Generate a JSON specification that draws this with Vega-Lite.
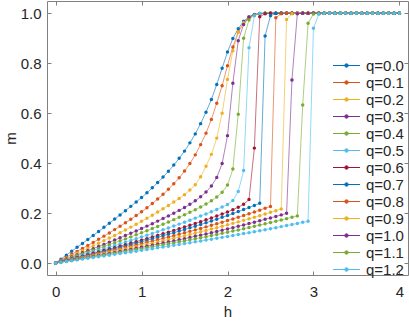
{
"$schema":"https://vega.github.io/schema/vega-lite/v6.json",
"width":361,"height":274,
"autosize":{"type":"none"},
"padding":{"left":47,"top":1,"right":1,"bottom":46},
"background":"white",
"config":{"view":{"stroke":null},"font":"Liberation Sans"},
"data":{"values":[
{"q":"0.0","h":0,"m":0},{"q":"0.0","h":0.0625,"m":0.0156},{"q":"0.0","h":0.125,"m":0.0313},{"q":"0.0","h":0.1875,"m":0.047},{"q":"0.0","h":0.25,"m":0.0627},{"q":"0.0","h":0.3125,"m":0.0785},{"q":"0.0","h":0.375,"m":0.0944},{"q":"0.0","h":0.4375,"m":0.1104},{"q":"0.0","h":0.5,"m":0.1265},{"q":"0.0","h":0.5625,"m":0.1428},{"q":"0.0","h":0.625,"m":0.1592},{"q":"0.0","h":0.6875,"m":0.1758},{"q":"0.0","h":0.75,"m":0.1926},{"q":"0.0","h":0.8125,"m":0.2096},{"q":"0.0","h":0.875,"m":0.2268},{"q":"0.0","h":0.9375,"m":0.2443},{"q":"0.0","h":1,"m":0.262},{"q":"0.0","h":1.0625,"m":0.281},{"q":"0.0","h":1.125,"m":0.301},{"q":"0.0","h":1.1875,"m":0.322},{"q":"0.0","h":1.25,"m":0.344},{"q":"0.0","h":1.3125,"m":0.367},{"q":"0.0","h":1.375,"m":0.392},{"q":"0.0","h":1.4375,"m":0.419},{"q":"0.0","h":1.5,"m":0.448},{"q":"0.0","h":1.5625,"m":0.481},{"q":"0.0","h":1.625,"m":0.517},{"q":"0.0","h":1.6875,"m":0.558},{"q":"0.0","h":1.75,"m":0.604},{"q":"0.0","h":1.8125,"m":0.655},{"q":"0.0","h":1.875,"m":0.715},{"q":"0.0","h":1.9375,"m":0.78},{"q":"0.0","h":2,"m":0.845},{"q":"0.0","h":2.0625,"m":0.899},{"q":"0.0","h":2.125,"m":0.938},{"q":"0.0","h":2.1875,"m":0.968},{"q":"0.0","h":2.25,"m":0.986},{"q":"0.0","h":2.3125,"m":0.994},{"q":"0.0","h":2.375,"m":0.998},{"q":"0.0","h":2.4375,"m":1},{"q":"0.0","h":2.5,"m":1},{"q":"0.0","h":2.5625,"m":1},{"q":"0.0","h":2.625,"m":1},{"q":"0.0","h":2.6875,"m":1},{"q":"0.0","h":2.75,"m":1},{"q":"0.0","h":2.8125,"m":1},{"q":"0.0","h":2.875,"m":1},{"q":"0.0","h":2.9375,"m":1},{"q":"0.0","h":3,"m":1},{"q":"0.0","h":3.0625,"m":1},{"q":"0.0","h":3.125,"m":1},{"q":"0.0","h":3.1875,"m":1},{"q":"0.0","h":3.25,"m":1},{"q":"0.0","h":3.3125,"m":1},{"q":"0.0","h":3.375,"m":1},{"q":"0.0","h":3.4375,"m":1},{"q":"0.0","h":3.5,"m":1},{"q":"0.0","h":3.5625,"m":1},{"q":"0.0","h":3.625,"m":1},{"q":"0.0","h":3.6875,"m":1},{"q":"0.0","h":3.75,"m":1},{"q":"0.0","h":3.8125,"m":1},{"q":"0.0","h":3.875,"m":1},{"q":"0.0","h":3.9375,"m":1},{"q":"0.0","h":4,"m":1},
{"q":"0.1","h":0,"m":0},{"q":"0.1","h":0.0625,"m":0.0116},{"q":"0.1","h":0.125,"m":0.0232},{"q":"0.1","h":0.1875,"m":0.0348},{"q":"0.1","h":0.25,"m":0.0466},{"q":"0.1","h":0.3125,"m":0.0584},{"q":"0.1","h":0.375,"m":0.0704},{"q":"0.1","h":0.4375,"m":0.0826},{"q":"0.1","h":0.5,"m":0.095},{"q":"0.1","h":0.5625,"m":0.1076},{"q":"0.1","h":0.625,"m":0.1205},{"q":"0.1","h":0.6875,"m":0.1337},{"q":"0.1","h":0.75,"m":0.1472},{"q":"0.1","h":0.8125,"m":0.1611},{"q":"0.1","h":0.875,"m":0.1753},{"q":"0.1","h":0.9375,"m":0.19},{"q":"0.1","h":1,"m":0.205},{"q":"0.1","h":1.0625,"m":0.221},{"q":"0.1","h":1.125,"m":0.238},{"q":"0.1","h":1.1875,"m":0.256},{"q":"0.1","h":1.25,"m":0.275},{"q":"0.1","h":1.3125,"m":0.295},{"q":"0.1","h":1.375,"m":0.317},{"q":"0.1","h":1.4375,"m":0.341},{"q":"0.1","h":1.5,"m":0.368},{"q":"0.1","h":1.5625,"m":0.398},{"q":"0.1","h":1.625,"m":0.433},{"q":"0.1","h":1.6875,"m":0.474},{"q":"0.1","h":1.75,"m":0.52},{"q":"0.1","h":1.8125,"m":0.575},{"q":"0.1","h":1.875,"m":0.64},{"q":"0.1","h":1.9375,"m":0.71},{"q":"0.1","h":2,"m":0.79},{"q":"0.1","h":2.0625,"m":0.865},{"q":"0.1","h":2.125,"m":0.925},{"q":"0.1","h":2.1875,"m":0.962},{"q":"0.1","h":2.25,"m":0.984},{"q":"0.1","h":2.3125,"m":0.994},{"q":"0.1","h":2.375,"m":0.998},{"q":"0.1","h":2.4375,"m":1},{"q":"0.1","h":2.5,"m":1},{"q":"0.1","h":2.5625,"m":1},{"q":"0.1","h":2.625,"m":1},{"q":"0.1","h":2.6875,"m":1},{"q":"0.1","h":2.75,"m":1},{"q":"0.1","h":2.8125,"m":1},{"q":"0.1","h":2.875,"m":1},{"q":"0.1","h":2.9375,"m":1},{"q":"0.1","h":3,"m":1},{"q":"0.1","h":3.0625,"m":1},{"q":"0.1","h":3.125,"m":1},{"q":"0.1","h":3.1875,"m":1},{"q":"0.1","h":3.25,"m":1},{"q":"0.1","h":3.3125,"m":1},{"q":"0.1","h":3.375,"m":1},{"q":"0.1","h":3.4375,"m":1},{"q":"0.1","h":3.5,"m":1},{"q":"0.1","h":3.5625,"m":1},{"q":"0.1","h":3.625,"m":1},{"q":"0.1","h":3.6875,"m":1},{"q":"0.1","h":3.75,"m":1},{"q":"0.1","h":3.8125,"m":1},{"q":"0.1","h":3.875,"m":1},{"q":"0.1","h":3.9375,"m":1},{"q":"0.1","h":4,"m":1},
{"q":"0.2","h":0,"m":0},{"q":"0.2","h":0.0625,"m":0.0097},{"q":"0.2","h":0.125,"m":0.0194},{"q":"0.2","h":0.1875,"m":0.0292},{"q":"0.2","h":0.25,"m":0.039},{"q":"0.2","h":0.3125,"m":0.0488},{"q":"0.2","h":0.375,"m":0.0588},{"q":"0.2","h":0.4375,"m":0.0688},{"q":"0.2","h":0.5,"m":0.079},{"q":"0.2","h":0.5625,"m":0.0893},{"q":"0.2","h":0.625,"m":0.0998},{"q":"0.2","h":0.6875,"m":0.1105},{"q":"0.2","h":0.75,"m":0.1213},{"q":"0.2","h":0.8125,"m":0.1324},{"q":"0.2","h":0.875,"m":0.1437},{"q":"0.2","h":0.9375,"m":0.1552},{"q":"0.2","h":1,"m":0.167},{"q":"0.2","h":1.0625,"m":0.1791},{"q":"0.2","h":1.125,"m":0.1915},{"q":"0.2","h":1.1875,"m":0.2041},{"q":"0.2","h":1.25,"m":0.2172},{"q":"0.2","h":1.3125,"m":0.2306},{"q":"0.2","h":1.375,"m":0.2443},{"q":"0.2","h":1.4375,"m":0.2585},{"q":"0.2","h":1.5,"m":0.273},{"q":"0.2","h":1.5625,"m":0.292},{"q":"0.2","h":1.625,"m":0.313},{"q":"0.2","h":1.6875,"m":0.345},{"q":"0.2","h":1.75,"m":0.387},{"q":"0.2","h":1.8125,"m":0.435},{"q":"0.2","h":1.875,"m":0.5},{"q":"0.2","h":1.9375,"m":0.6},{"q":"0.2","h":2,"m":0.735},{"q":"0.2","h":2.0625,"m":0.85},{"q":"0.2","h":2.125,"m":0.925},{"q":"0.2","h":2.1875,"m":0.962},{"q":"0.2","h":2.25,"m":0.984},{"q":"0.2","h":2.3125,"m":0.994},{"q":"0.2","h":2.375,"m":0.998},{"q":"0.2","h":2.4375,"m":1},{"q":"0.2","h":2.5,"m":1},{"q":"0.2","h":2.5625,"m":1},{"q":"0.2","h":2.625,"m":1},{"q":"0.2","h":2.6875,"m":1},{"q":"0.2","h":2.75,"m":1},{"q":"0.2","h":2.8125,"m":1},{"q":"0.2","h":2.875,"m":1},{"q":"0.2","h":2.9375,"m":1},{"q":"0.2","h":3,"m":1},{"q":"0.2","h":3.0625,"m":1},{"q":"0.2","h":3.125,"m":1},{"q":"0.2","h":3.1875,"m":1},{"q":"0.2","h":3.25,"m":1},{"q":"0.2","h":3.3125,"m":1},{"q":"0.2","h":3.375,"m":1},{"q":"0.2","h":3.4375,"m":1},{"q":"0.2","h":3.5,"m":1},{"q":"0.2","h":3.5625,"m":1},{"q":"0.2","h":3.625,"m":1},{"q":"0.2","h":3.6875,"m":1},{"q":"0.2","h":3.75,"m":1},{"q":"0.2","h":3.8125,"m":1},{"q":"0.2","h":3.875,"m":1},{"q":"0.2","h":3.9375,"m":1},{"q":"0.2","h":4,"m":1},
{"q":"0.3","h":0,"m":0},{"q":"0.3","h":0.0625,"m":0.0081},{"q":"0.3","h":0.125,"m":0.0163},{"q":"0.3","h":0.1875,"m":0.0244},{"q":"0.3","h":0.25,"m":0.0326},{"q":"0.3","h":0.3125,"m":0.0409},{"q":"0.3","h":0.375,"m":0.0492},{"q":"0.3","h":0.4375,"m":0.0575},{"q":"0.3","h":0.5,"m":0.066},{"q":"0.3","h":0.5625,"m":0.0745},{"q":"0.3","h":0.625,"m":0.0832},{"q":"0.3","h":0.6875,"m":0.092},{"q":"0.3","h":0.75,"m":0.1009},{"q":"0.3","h":0.8125,"m":0.11},{"q":"0.3","h":0.875,"m":0.1191},{"q":"0.3","h":0.9375,"m":0.1285},{"q":"0.3","h":1,"m":0.138},{"q":"0.3","h":1.0625,"m":0.1477},{"q":"0.3","h":1.125,"m":0.1576},{"q":"0.3","h":1.1875,"m":0.1677},{"q":"0.3","h":1.25,"m":0.1781},{"q":"0.3","h":1.3125,"m":0.1887},{"q":"0.3","h":1.375,"m":0.1996},{"q":"0.3","h":1.4375,"m":0.2107},{"q":"0.3","h":1.5,"m":0.222},{"q":"0.3","h":1.5625,"m":0.235},{"q":"0.3","h":1.625,"m":0.249},{"q":"0.3","h":1.6875,"m":0.265},{"q":"0.3","h":1.75,"m":0.284},{"q":"0.3","h":1.8125,"m":0.308},{"q":"0.3","h":1.875,"m":0.342},{"q":"0.3","h":1.9375,"m":0.398},{"q":"0.3","h":2,"m":0.51},{"q":"0.3","h":2.0625,"m":0.72},{"q":"0.3","h":2.125,"m":0.89},{"q":"0.3","h":2.1875,"m":0.955},{"q":"0.3","h":2.25,"m":0.984},{"q":"0.3","h":2.3125,"m":0.995},{"q":"0.3","h":2.375,"m":0.999},{"q":"0.3","h":2.4375,"m":1},{"q":"0.3","h":2.5,"m":1},{"q":"0.3","h":2.5625,"m":1},{"q":"0.3","h":2.625,"m":1},{"q":"0.3","h":2.6875,"m":1},{"q":"0.3","h":2.75,"m":1},{"q":"0.3","h":2.8125,"m":1},{"q":"0.3","h":2.875,"m":1},{"q":"0.3","h":2.9375,"m":1},{"q":"0.3","h":3,"m":1},{"q":"0.3","h":3.0625,"m":1},{"q":"0.3","h":3.125,"m":1},{"q":"0.3","h":3.1875,"m":1},{"q":"0.3","h":3.25,"m":1},{"q":"0.3","h":3.3125,"m":1},{"q":"0.3","h":3.375,"m":1},{"q":"0.3","h":3.4375,"m":1},{"q":"0.3","h":3.5,"m":1},{"q":"0.3","h":3.5625,"m":1},{"q":"0.3","h":3.625,"m":1},{"q":"0.3","h":3.6875,"m":1},{"q":"0.3","h":3.75,"m":1},{"q":"0.3","h":3.8125,"m":1},{"q":"0.3","h":3.875,"m":1},{"q":"0.3","h":3.9375,"m":1},{"q":"0.3","h":4,"m":1},
{"q":"0.4","h":0,"m":0},{"q":"0.4","h":0.0625,"m":0.0072},{"q":"0.4","h":0.125,"m":0.0144},{"q":"0.4","h":0.1875,"m":0.0216},{"q":"0.4","h":0.25,"m":0.0289},{"q":"0.4","h":0.3125,"m":0.0361},{"q":"0.4","h":0.375,"m":0.0434},{"q":"0.4","h":0.4375,"m":0.0508},{"q":"0.4","h":0.5,"m":0.0583},{"q":"0.4","h":0.5625,"m":0.0658},{"q":"0.4","h":0.625,"m":0.0733},{"q":"0.4","h":0.6875,"m":0.081},{"q":"0.4","h":0.75,"m":0.0888},{"q":"0.4","h":0.8125,"m":0.0966},{"q":"0.4","h":0.875,"m":0.1046},{"q":"0.4","h":0.9375,"m":0.1128},{"q":"0.4","h":1,"m":0.121},{"q":"0.4","h":1.0625,"m":0.1294},{"q":"0.4","h":1.125,"m":0.1379},{"q":"0.4","h":1.1875,"m":0.1466},{"q":"0.4","h":1.25,"m":0.1555},{"q":"0.4","h":1.3125,"m":0.1645},{"q":"0.4","h":1.375,"m":0.1737},{"q":"0.4","h":1.4375,"m":0.1832},{"q":"0.4","h":1.5,"m":0.193},{"q":"0.4","h":1.5625,"m":0.203},{"q":"0.4","h":1.625,"m":0.213},{"q":"0.4","h":1.6875,"m":0.224},{"q":"0.4","h":1.75,"m":0.236},{"q":"0.4","h":1.8125,"m":0.249},{"q":"0.4","h":1.875,"m":0.264},{"q":"0.4","h":1.9375,"m":0.283},{"q":"0.4","h":2,"m":0.312},{"q":"0.4","h":2.0625,"m":0.376},{"q":"0.4","h":2.125,"m":0.596},{"q":"0.4","h":2.1875,"m":0.9},{"q":"0.4","h":2.25,"m":0.973},{"q":"0.4","h":2.3125,"m":0.993},{"q":"0.4","h":2.375,"m":0.999},{"q":"0.4","h":2.4375,"m":1},{"q":"0.4","h":2.5,"m":1},{"q":"0.4","h":2.5625,"m":1},{"q":"0.4","h":2.625,"m":1},{"q":"0.4","h":2.6875,"m":1},{"q":"0.4","h":2.75,"m":1},{"q":"0.4","h":2.8125,"m":1},{"q":"0.4","h":2.875,"m":1},{"q":"0.4","h":2.9375,"m":1},{"q":"0.4","h":3,"m":1},{"q":"0.4","h":3.0625,"m":1},{"q":"0.4","h":3.125,"m":1},{"q":"0.4","h":3.1875,"m":1},{"q":"0.4","h":3.25,"m":1},{"q":"0.4","h":3.3125,"m":1},{"q":"0.4","h":3.375,"m":1},{"q":"0.4","h":3.4375,"m":1},{"q":"0.4","h":3.5,"m":1},{"q":"0.4","h":3.5625,"m":1},{"q":"0.4","h":3.625,"m":1},{"q":"0.4","h":3.6875,"m":1},{"q":"0.4","h":3.75,"m":1},{"q":"0.4","h":3.8125,"m":1},{"q":"0.4","h":3.875,"m":1},{"q":"0.4","h":3.9375,"m":1},{"q":"0.4","h":4,"m":1},
{"q":"0.5","h":0,"m":0},{"q":"0.5","h":0.0625,"m":0.0063},{"q":"0.5","h":0.125,"m":0.0125},{"q":"0.5","h":0.1875,"m":0.0188},{"q":"0.5","h":0.25,"m":0.0251},{"q":"0.5","h":0.3125,"m":0.0314},{"q":"0.5","h":0.375,"m":0.0377},{"q":"0.5","h":0.4375,"m":0.0441},{"q":"0.5","h":0.5,"m":0.0505},{"q":"0.5","h":0.5625,"m":0.057},{"q":"0.5","h":0.625,"m":0.0635},{"q":"0.5","h":0.6875,"m":0.07},{"q":"0.5","h":0.75,"m":0.0767},{"q":"0.5","h":0.8125,"m":0.0834},{"q":"0.5","h":0.875,"m":0.0902},{"q":"0.5","h":0.9375,"m":0.0971},{"q":"0.5","h":1,"m":0.104},{"q":"0.5","h":1.0625,"m":0.111},{"q":"0.5","h":1.125,"m":0.1182},{"q":"0.5","h":1.1875,"m":0.1255},{"q":"0.5","h":1.25,"m":0.1328},{"q":"0.5","h":1.3125,"m":0.1403},{"q":"0.5","h":1.375,"m":0.1479},{"q":"0.5","h":1.4375,"m":0.1557},{"q":"0.5","h":1.5,"m":0.1635},{"q":"0.5","h":1.5625,"m":0.1715},{"q":"0.5","h":1.625,"m":0.1797},{"q":"0.5","h":1.6875,"m":0.188},{"q":"0.5","h":1.75,"m":0.1964},{"q":"0.5","h":1.8125,"m":0.2051},{"q":"0.5","h":1.875,"m":0.214},{"q":"0.5","h":1.9375,"m":0.224},{"q":"0.5","h":2,"m":0.234},{"q":"0.5","h":2.0625,"m":0.25},{"q":"0.5","h":2.125,"m":0.286},{"q":"0.5","h":2.1875,"m":0.37},{"q":"0.5","h":2.25,"m":0.862},{"q":"0.5","h":2.3125,"m":0.99},{"q":"0.5","h":2.375,"m":0.999},{"q":"0.5","h":2.4375,"m":1},{"q":"0.5","h":2.5,"m":1},{"q":"0.5","h":2.5625,"m":1},{"q":"0.5","h":2.625,"m":1},{"q":"0.5","h":2.6875,"m":1},{"q":"0.5","h":2.75,"m":1},{"q":"0.5","h":2.8125,"m":1},{"q":"0.5","h":2.875,"m":1},{"q":"0.5","h":2.9375,"m":1},{"q":"0.5","h":3,"m":1},{"q":"0.5","h":3.0625,"m":1},{"q":"0.5","h":3.125,"m":1},{"q":"0.5","h":3.1875,"m":1},{"q":"0.5","h":3.25,"m":1},{"q":"0.5","h":3.3125,"m":1},{"q":"0.5","h":3.375,"m":1},{"q":"0.5","h":3.4375,"m":1},{"q":"0.5","h":3.5,"m":1},{"q":"0.5","h":3.5625,"m":1},{"q":"0.5","h":3.625,"m":1},{"q":"0.5","h":3.6875,"m":1},{"q":"0.5","h":3.75,"m":1},{"q":"0.5","h":3.8125,"m":1},{"q":"0.5","h":3.875,"m":1},{"q":"0.5","h":3.9375,"m":1},{"q":"0.5","h":4,"m":1},
{"q":"0.6","h":0,"m":0},{"q":"0.6","h":0.0625,"m":0.0055},{"q":"0.6","h":0.125,"m":0.011},{"q":"0.6","h":0.1875,"m":0.0165},{"q":"0.6","h":0.25,"m":0.0221},{"q":"0.6","h":0.3125,"m":0.0276},{"q":"0.6","h":0.375,"m":0.0332},{"q":"0.6","h":0.4375,"m":0.0388},{"q":"0.6","h":0.5,"m":0.0444},{"q":"0.6","h":0.5625,"m":0.0501},{"q":"0.6","h":0.625,"m":0.0559},{"q":"0.6","h":0.6875,"m":0.0616},{"q":"0.6","h":0.75,"m":0.0675},{"q":"0.6","h":0.8125,"m":0.0734},{"q":"0.6","h":0.875,"m":0.0793},{"q":"0.6","h":0.9375,"m":0.0854},{"q":"0.6","h":1,"m":0.0915},{"q":"0.6","h":1.0625,"m":0.0977},{"q":"0.6","h":1.125,"m":0.104},{"q":"0.6","h":1.1875,"m":0.1104},{"q":"0.6","h":1.25,"m":0.1168},{"q":"0.6","h":1.3125,"m":0.1234},{"q":"0.6","h":1.375,"m":0.1301},{"q":"0.6","h":1.4375,"m":0.1369},{"q":"0.6","h":1.5,"m":0.1438},{"q":"0.6","h":1.5625,"m":0.1509},{"q":"0.6","h":1.625,"m":0.158},{"q":"0.6","h":1.6875,"m":0.1653},{"q":"0.6","h":1.75,"m":0.1728},{"q":"0.6","h":1.8125,"m":0.1804},{"q":"0.6","h":1.875,"m":0.1881},{"q":"0.6","h":1.9375,"m":0.196},{"q":"0.6","h":2,"m":0.2045},{"q":"0.6","h":2.0625,"m":0.2135},{"q":"0.6","h":2.125,"m":0.2235},{"q":"0.6","h":2.1875,"m":0.2355},{"q":"0.6","h":2.25,"m":0.254},{"q":"0.6","h":2.3125,"m":0.46},{"q":"0.6","h":2.375,"m":0.986},{"q":"0.6","h":2.4375,"m":0.998},{"q":"0.6","h":2.5,"m":1},{"q":"0.6","h":2.5625,"m":1},{"q":"0.6","h":2.625,"m":1},{"q":"0.6","h":2.6875,"m":1},{"q":"0.6","h":2.75,"m":1},{"q":"0.6","h":2.8125,"m":1},{"q":"0.6","h":2.875,"m":1},{"q":"0.6","h":2.9375,"m":1},{"q":"0.6","h":3,"m":1},{"q":"0.6","h":3.0625,"m":1},{"q":"0.6","h":3.125,"m":1},{"q":"0.6","h":3.1875,"m":1},{"q":"0.6","h":3.25,"m":1},{"q":"0.6","h":3.3125,"m":1},{"q":"0.6","h":3.375,"m":1},{"q":"0.6","h":3.4375,"m":1},{"q":"0.6","h":3.5,"m":1},{"q":"0.6","h":3.5625,"m":1},{"q":"0.6","h":3.625,"m":1},{"q":"0.6","h":3.6875,"m":1},{"q":"0.6","h":3.75,"m":1},{"q":"0.6","h":3.8125,"m":1},{"q":"0.6","h":3.875,"m":1},{"q":"0.6","h":3.9375,"m":1},{"q":"0.6","h":4,"m":1},
{"q":"0.7","h":0,"m":0},{"q":"0.7","h":0.0625,"m":0.0051},{"q":"0.7","h":0.125,"m":0.0103},{"q":"0.7","h":0.1875,"m":0.0154},{"q":"0.7","h":0.25,"m":0.0206},{"q":"0.7","h":0.3125,"m":0.0257},{"q":"0.7","h":0.375,"m":0.0309},{"q":"0.7","h":0.4375,"m":0.0362},{"q":"0.7","h":0.5,"m":0.0414},{"q":"0.7","h":0.5625,"m":0.0467},{"q":"0.7","h":0.625,"m":0.0521},{"q":"0.7","h":0.6875,"m":0.0574},{"q":"0.7","h":0.75,"m":0.0629},{"q":"0.7","h":0.8125,"m":0.0684},{"q":"0.7","h":0.875,"m":0.074},{"q":"0.7","h":0.9375,"m":0.0796},{"q":"0.7","h":1,"m":0.0853},{"q":"0.7","h":1.0625,"m":0.0911},{"q":"0.7","h":1.125,"m":0.097},{"q":"0.7","h":1.1875,"m":0.1029},{"q":"0.7","h":1.25,"m":0.109},{"q":"0.7","h":1.3125,"m":0.1151},{"q":"0.7","h":1.375,"m":0.1213},{"q":"0.7","h":1.4375,"m":0.1277},{"q":"0.7","h":1.5,"m":0.1341},{"q":"0.7","h":1.5625,"m":0.1407},{"q":"0.7","h":1.625,"m":0.1474},{"q":"0.7","h":1.6875,"m":0.1542},{"q":"0.7","h":1.75,"m":0.1612},{"q":"0.7","h":1.8125,"m":0.1683},{"q":"0.7","h":1.875,"m":0.1755},{"q":"0.7","h":1.9375,"m":0.1829},{"q":"0.7","h":2,"m":0.1904},{"q":"0.7","h":2.0625,"m":0.1981},{"q":"0.7","h":2.125,"m":0.2059},{"q":"0.7","h":2.1875,"m":0.2139},{"q":"0.7","h":2.25,"m":0.2221},{"q":"0.7","h":2.3125,"m":0.2304},{"q":"0.7","h":2.375,"m":0.239},{"q":"0.7","h":2.4375,"m":0.909},{"q":"0.7","h":2.5,"m":0.99},{"q":"0.7","h":2.5625,"m":0.999},{"q":"0.7","h":2.625,"m":1},{"q":"0.7","h":2.6875,"m":1},{"q":"0.7","h":2.75,"m":1},{"q":"0.7","h":2.8125,"m":1},{"q":"0.7","h":2.875,"m":1},{"q":"0.7","h":2.9375,"m":1},{"q":"0.7","h":3,"m":1},{"q":"0.7","h":3.0625,"m":1},{"q":"0.7","h":3.125,"m":1},{"q":"0.7","h":3.1875,"m":1},{"q":"0.7","h":3.25,"m":1},{"q":"0.7","h":3.3125,"m":1},{"q":"0.7","h":3.375,"m":1},{"q":"0.7","h":3.4375,"m":1},{"q":"0.7","h":3.5,"m":1},{"q":"0.7","h":3.5625,"m":1},{"q":"0.7","h":3.625,"m":1},{"q":"0.7","h":3.6875,"m":1},{"q":"0.7","h":3.75,"m":1},{"q":"0.7","h":3.8125,"m":1},{"q":"0.7","h":3.875,"m":1},{"q":"0.7","h":3.9375,"m":1},{"q":"0.7","h":4,"m":1},
{"q":"0.8","h":0,"m":0},{"q":"0.8","h":0.0625,"m":0.0047},{"q":"0.8","h":0.125,"m":0.0094},{"q":"0.8","h":0.1875,"m":0.0141},{"q":"0.8","h":0.25,"m":0.0188},{"q":"0.8","h":0.3125,"m":0.0235},{"q":"0.8","h":0.375,"m":0.0283},{"q":"0.8","h":0.4375,"m":0.033},{"q":"0.8","h":0.5,"m":0.0378},{"q":"0.8","h":0.5625,"m":0.0426},{"q":"0.8","h":0.625,"m":0.0475},{"q":"0.8","h":0.6875,"m":0.0524},{"q":"0.8","h":0.75,"m":0.0573},{"q":"0.8","h":0.8125,"m":0.0623},{"q":"0.8","h":0.875,"m":0.0673},{"q":"0.8","h":0.9375,"m":0.0724},{"q":"0.8","h":1,"m":0.0775},{"q":"0.8","h":1.0625,"m":0.0827},{"q":"0.8","h":1.125,"m":0.0879},{"q":"0.8","h":1.1875,"m":0.0933},{"q":"0.8","h":1.25,"m":0.0986},{"q":"0.8","h":1.3125,"m":0.1041},{"q":"0.8","h":1.375,"m":0.1096},{"q":"0.8","h":1.4375,"m":0.1152},{"q":"0.8","h":1.5,"m":0.1209},{"q":"0.8","h":1.5625,"m":0.1267},{"q":"0.8","h":1.625,"m":0.1326},{"q":"0.8","h":1.6875,"m":0.1386},{"q":"0.8","h":1.75,"m":0.1447},{"q":"0.8","h":1.8125,"m":0.1508},{"q":"0.8","h":1.875,"m":0.1571},{"q":"0.8","h":1.9375,"m":0.1635},{"q":"0.8","h":2,"m":0.17},{"q":"0.8","h":2.0625,"m":0.1766},{"q":"0.8","h":2.125,"m":0.1834},{"q":"0.8","h":2.1875,"m":0.1903},{"q":"0.8","h":2.25,"m":0.1972},{"q":"0.8","h":2.3125,"m":0.2043},{"q":"0.8","h":2.375,"m":0.2116},{"q":"0.8","h":2.4375,"m":0.219},{"q":"0.8","h":2.5,"m":0.2266},{"q":"0.8","h":2.5625,"m":0.982},{"q":"0.8","h":2.625,"m":0.998},{"q":"0.8","h":2.6875,"m":1},{"q":"0.8","h":2.75,"m":1},{"q":"0.8","h":2.8125,"m":1},{"q":"0.8","h":2.875,"m":1},{"q":"0.8","h":2.9375,"m":1},{"q":"0.8","h":3,"m":1},{"q":"0.8","h":3.0625,"m":1},{"q":"0.8","h":3.125,"m":1},{"q":"0.8","h":3.1875,"m":1},{"q":"0.8","h":3.25,"m":1},{"q":"0.8","h":3.3125,"m":1},{"q":"0.8","h":3.375,"m":1},{"q":"0.8","h":3.4375,"m":1},{"q":"0.8","h":3.5,"m":1},{"q":"0.8","h":3.5625,"m":1},{"q":"0.8","h":3.625,"m":1},{"q":"0.8","h":3.6875,"m":1},{"q":"0.8","h":3.75,"m":1},{"q":"0.8","h":3.8125,"m":1},{"q":"0.8","h":3.875,"m":1},{"q":"0.8","h":3.9375,"m":1},{"q":"0.8","h":4,"m":1},
{"q":"0.9","h":0,"m":0},{"q":"0.9","h":0.0625,"m":0.0043},{"q":"0.9","h":0.125,"m":0.0085},{"q":"0.9","h":0.1875,"m":0.0128},{"q":"0.9","h":0.25,"m":0.017},{"q":"0.9","h":0.3125,"m":0.0213},{"q":"0.9","h":0.375,"m":0.0256},{"q":"0.9","h":0.4375,"m":0.0299},{"q":"0.9","h":0.5,"m":0.0343},{"q":"0.9","h":0.5625,"m":0.0386},{"q":"0.9","h":0.625,"m":0.043},{"q":"0.9","h":0.6875,"m":0.0474},{"q":"0.9","h":0.75,"m":0.0519},{"q":"0.9","h":0.8125,"m":0.0564},{"q":"0.9","h":0.875,"m":0.0609},{"q":"0.9","h":0.9375,"m":0.0655},{"q":"0.9","h":1,"m":0.0701},{"q":"0.9","h":1.0625,"m":0.0748},{"q":"0.9","h":1.125,"m":0.0795},{"q":"0.9","h":1.1875,"m":0.0843},{"q":"0.9","h":1.25,"m":0.0891},{"q":"0.9","h":1.3125,"m":0.094},{"q":"0.9","h":1.375,"m":0.099},{"q":"0.9","h":1.4375,"m":0.104},{"q":"0.9","h":1.5,"m":0.1091},{"q":"0.9","h":1.5625,"m":0.1143},{"q":"0.9","h":1.625,"m":0.1195},{"q":"0.9","h":1.6875,"m":0.1248},{"q":"0.9","h":1.75,"m":0.1303},{"q":"0.9","h":1.8125,"m":0.1358},{"q":"0.9","h":1.875,"m":0.1413},{"q":"0.9","h":1.9375,"m":0.147},{"q":"0.9","h":2,"m":0.1528},{"q":"0.9","h":2.0625,"m":0.1587},{"q":"0.9","h":2.125,"m":0.1647},{"q":"0.9","h":2.1875,"m":0.1707},{"q":"0.9","h":2.25,"m":0.1769},{"q":"0.9","h":2.3125,"m":0.1832},{"q":"0.9","h":2.375,"m":0.1896},{"q":"0.9","h":2.4375,"m":0.1962},{"q":"0.9","h":2.5,"m":0.2028},{"q":"0.9","h":2.5625,"m":0.2096},{"q":"0.9","h":2.625,"m":0.2165},{"q":"0.9","h":2.6875,"m":0.975},{"q":"0.9","h":2.75,"m":0.998},{"q":"0.9","h":2.8125,"m":1},{"q":"0.9","h":2.875,"m":1},{"q":"0.9","h":2.9375,"m":1},{"q":"0.9","h":3,"m":1},{"q":"0.9","h":3.0625,"m":1},{"q":"0.9","h":3.125,"m":1},{"q":"0.9","h":3.1875,"m":1},{"q":"0.9","h":3.25,"m":1},{"q":"0.9","h":3.3125,"m":1},{"q":"0.9","h":3.375,"m":1},{"q":"0.9","h":3.4375,"m":1},{"q":"0.9","h":3.5,"m":1},{"q":"0.9","h":3.5625,"m":1},{"q":"0.9","h":3.625,"m":1},{"q":"0.9","h":3.6875,"m":1},{"q":"0.9","h":3.75,"m":1},{"q":"0.9","h":3.8125,"m":1},{"q":"0.9","h":3.875,"m":1},{"q":"0.9","h":3.9375,"m":1},{"q":"0.9","h":4,"m":1},
{"q":"1.0","h":0,"m":0},{"q":"1.0","h":0.0625,"m":0.0038},{"q":"1.0","h":0.125,"m":0.0076},{"q":"1.0","h":0.1875,"m":0.0114},{"q":"1.0","h":0.25,"m":0.0153},{"q":"1.0","h":0.3125,"m":0.0191},{"q":"1.0","h":0.375,"m":0.023},{"q":"1.0","h":0.4375,"m":0.0268},{"q":"1.0","h":0.5,"m":0.0307},{"q":"1.0","h":0.5625,"m":0.0346},{"q":"1.0","h":0.625,"m":0.0386},{"q":"1.0","h":0.6875,"m":0.0425},{"q":"1.0","h":0.75,"m":0.0465},{"q":"1.0","h":0.8125,"m":0.0505},{"q":"1.0","h":0.875,"m":0.0546},{"q":"1.0","h":0.9375,"m":0.0587},{"q":"1.0","h":1,"m":0.0628},{"q":"1.0","h":1.0625,"m":0.067},{"q":"1.0","h":1.125,"m":0.0712},{"q":"1.0","h":1.1875,"m":0.0755},{"q":"1.0","h":1.25,"m":0.0798},{"q":"1.0","h":1.3125,"m":0.0841},{"q":"1.0","h":1.375,"m":0.0886},{"q":"1.0","h":1.4375,"m":0.093},{"q":"1.0","h":1.5,"m":0.0976},{"q":"1.0","h":1.5625,"m":0.1022},{"q":"1.0","h":1.625,"m":0.1069},{"q":"1.0","h":1.6875,"m":0.1116},{"q":"1.0","h":1.75,"m":0.1164},{"q":"1.0","h":1.8125,"m":0.1213},{"q":"1.0","h":1.875,"m":0.1262},{"q":"1.0","h":1.9375,"m":0.1313},{"q":"1.0","h":2,"m":0.1364},{"q":"1.0","h":2.0625,"m":0.1416},{"q":"1.0","h":2.125,"m":0.1469},{"q":"1.0","h":2.1875,"m":0.1523},{"q":"1.0","h":2.25,"m":0.1578},{"q":"1.0","h":2.3125,"m":0.1633},{"q":"1.0","h":2.375,"m":0.169},{"q":"1.0","h":2.4375,"m":0.1748},{"q":"1.0","h":2.5,"m":0.1806},{"q":"1.0","h":2.5625,"m":0.1866},{"q":"1.0","h":2.625,"m":0.1927},{"q":"1.0","h":2.6875,"m":0.1989},{"q":"1.0","h":2.75,"m":0.733},{"q":"1.0","h":2.8125,"m":0.998},{"q":"1.0","h":2.875,"m":1},{"q":"1.0","h":2.9375,"m":1},{"q":"1.0","h":3,"m":1},{"q":"1.0","h":3.0625,"m":1},{"q":"1.0","h":3.125,"m":1},{"q":"1.0","h":3.1875,"m":1},{"q":"1.0","h":3.25,"m":1},{"q":"1.0","h":3.3125,"m":1},{"q":"1.0","h":3.375,"m":1},{"q":"1.0","h":3.4375,"m":1},{"q":"1.0","h":3.5,"m":1},{"q":"1.0","h":3.5625,"m":1},{"q":"1.0","h":3.625,"m":1},{"q":"1.0","h":3.6875,"m":1},{"q":"1.0","h":3.75,"m":1},{"q":"1.0","h":3.8125,"m":1},{"q":"1.0","h":3.875,"m":1},{"q":"1.0","h":3.9375,"m":1},{"q":"1.0","h":4,"m":1},
{"q":"1.1","h":0,"m":0},{"q":"1.1","h":0.0625,"m":0.0035},{"q":"1.1","h":0.125,"m":0.007},{"q":"1.1","h":0.1875,"m":0.0105},{"q":"1.1","h":0.25,"m":0.014},{"q":"1.1","h":0.3125,"m":0.0175},{"q":"1.1","h":0.375,"m":0.0211},{"q":"1.1","h":0.4375,"m":0.0246},{"q":"1.1","h":0.5,"m":0.0282},{"q":"1.1","h":0.5625,"m":0.0318},{"q":"1.1","h":0.625,"m":0.0353},{"q":"1.1","h":0.6875,"m":0.039},{"q":"1.1","h":0.75,"m":0.0426},{"q":"1.1","h":0.8125,"m":0.0463},{"q":"1.1","h":0.875,"m":0.0499},{"q":"1.1","h":0.9375,"m":0.0537},{"q":"1.1","h":1,"m":0.0574},{"q":"1.1","h":1.0625,"m":0.0612},{"q":"1.1","h":1.125,"m":0.065},{"q":"1.1","h":1.1875,"m":0.0688},{"q":"1.1","h":1.25,"m":0.0727},{"q":"1.1","h":1.3125,"m":0.0767},{"q":"1.1","h":1.375,"m":0.0806},{"q":"1.1","h":1.4375,"m":0.0847},{"q":"1.1","h":1.5,"m":0.0887},{"q":"1.1","h":1.5625,"m":0.0928},{"q":"1.1","h":1.625,"m":0.097},{"q":"1.1","h":1.6875,"m":0.1012},{"q":"1.1","h":1.75,"m":0.1055},{"q":"1.1","h":1.8125,"m":0.1098},{"q":"1.1","h":1.875,"m":0.1142},{"q":"1.1","h":1.9375,"m":0.1187},{"q":"1.1","h":2,"m":0.1232},{"q":"1.1","h":2.0625,"m":0.1278},{"q":"1.1","h":2.125,"m":0.1324},{"q":"1.1","h":2.1875,"m":0.1372},{"q":"1.1","h":2.25,"m":0.142},{"q":"1.1","h":2.3125,"m":0.1468},{"q":"1.1","h":2.375,"m":0.1518},{"q":"1.1","h":2.4375,"m":0.1568},{"q":"1.1","h":2.5,"m":0.1619},{"q":"1.1","h":2.5625,"m":0.1671},{"q":"1.1","h":2.625,"m":0.1723},{"q":"1.1","h":2.6875,"m":0.1777},{"q":"1.1","h":2.75,"m":0.1831},{"q":"1.1","h":2.8125,"m":0.1887},{"q":"1.1","h":2.875,"m":0.633},{"q":"1.1","h":2.9375,"m":0.96},{"q":"1.1","h":3,"m":0.997},{"q":"1.1","h":3.0625,"m":1},{"q":"1.1","h":3.125,"m":1},{"q":"1.1","h":3.1875,"m":1},{"q":"1.1","h":3.25,"m":1},{"q":"1.1","h":3.3125,"m":1},{"q":"1.1","h":3.375,"m":1},{"q":"1.1","h":3.4375,"m":1},{"q":"1.1","h":3.5,"m":1},{"q":"1.1","h":3.5625,"m":1},{"q":"1.1","h":3.625,"m":1},{"q":"1.1","h":3.6875,"m":1},{"q":"1.1","h":3.75,"m":1},{"q":"1.1","h":3.8125,"m":1},{"q":"1.1","h":3.875,"m":1},{"q":"1.1","h":3.9375,"m":1},{"q":"1.1","h":4,"m":1},
{"q":"1.2","h":0,"m":0},{"q":"1.2","h":0.0625,"m":0.0031},{"q":"1.2","h":0.125,"m":0.0063},{"q":"1.2","h":0.1875,"m":0.0094},{"q":"1.2","h":0.25,"m":0.0125},{"q":"1.2","h":0.3125,"m":0.0157},{"q":"1.2","h":0.375,"m":0.0188},{"q":"1.2","h":0.4375,"m":0.0219},{"q":"1.2","h":0.5,"m":0.0251},{"q":"1.2","h":0.5625,"m":0.0283},{"q":"1.2","h":0.625,"m":0.0315},{"q":"1.2","h":0.6875,"m":0.0346},{"q":"1.2","h":0.75,"m":0.0378},{"q":"1.2","h":0.8125,"m":0.0411},{"q":"1.2","h":0.875,"m":0.0443},{"q":"1.2","h":0.9375,"m":0.0475},{"q":"1.2","h":1,"m":0.0508},{"q":"1.2","h":1.0625,"m":0.0541},{"q":"1.2","h":1.125,"m":0.0574},{"q":"1.2","h":1.1875,"m":0.0607},{"q":"1.2","h":1.25,"m":0.0641},{"q":"1.2","h":1.3125,"m":0.0674},{"q":"1.2","h":1.375,"m":0.0708},{"q":"1.2","h":1.4375,"m":0.0743},{"q":"1.2","h":1.5,"m":0.0777},{"q":"1.2","h":1.5625,"m":0.0812},{"q":"1.2","h":1.625,"m":0.0847},{"q":"1.2","h":1.6875,"m":0.0882},{"q":"1.2","h":1.75,"m":0.0918},{"q":"1.2","h":1.8125,"m":0.0954},{"q":"1.2","h":1.875,"m":0.099},{"q":"1.2","h":1.9375,"m":0.1027},{"q":"1.2","h":2,"m":0.1064},{"q":"1.2","h":2.0625,"m":0.1101},{"q":"1.2","h":2.125,"m":0.1139},{"q":"1.2","h":2.1875,"m":0.1178},{"q":"1.2","h":2.25,"m":0.1216},{"q":"1.2","h":2.3125,"m":0.1255},{"q":"1.2","h":2.375,"m":0.1295},{"q":"1.2","h":2.4375,"m":0.1335},{"q":"1.2","h":2.5,"m":0.1375},{"q":"1.2","h":2.5625,"m":0.1416},{"q":"1.2","h":2.625,"m":0.1457},{"q":"1.2","h":2.6875,"m":0.1499},{"q":"1.2","h":2.75,"m":0.1541},{"q":"1.2","h":2.8125,"m":0.1584},{"q":"1.2","h":2.875,"m":0.1628},{"q":"1.2","h":2.9375,"m":0.1672},{"q":"1.2","h":3,"m":0.94},{"q":"1.2","h":3.0625,"m":0.996},{"q":"1.2","h":3.125,"m":1},{"q":"1.2","h":3.1875,"m":1},{"q":"1.2","h":3.25,"m":1},{"q":"1.2","h":3.3125,"m":1},{"q":"1.2","h":3.375,"m":1},{"q":"1.2","h":3.4375,"m":1},{"q":"1.2","h":3.5,"m":1},{"q":"1.2","h":3.5625,"m":1},{"q":"1.2","h":3.625,"m":1},{"q":"1.2","h":3.6875,"m":1},{"q":"1.2","h":3.75,"m":1},{"q":"1.2","h":3.8125,"m":1},{"q":"1.2","h":3.875,"m":1},{"q":"1.2","h":3.9375,"m":1},{"q":"1.2","h":4,"m":1}
]},
"encoding":{
 "color":{"field":"q","type":"nominal",
  "scale":{"domain":["0.0","0.1","0.2","0.3","0.4","0.5","0.6","0.7","0.8","0.9","1.0","1.1","1.2"],
   "range":["#0072BD","#D95319","#EDB120","#7E2F8E","#77AC30","#4DBEEE","#A2142F","#0072BD","#D95319","#EDB120","#7E2F8E","#77AC30","#4DBEEE"]},
  "legend":{"orient":"none","legendX":292,"legendY":57,"title":null,"labelExpr":"'q=' + datum.label","labelFontSize":15,"labelColor":"#262626","symbolType":"M-2.7,0H2.7M-0.35,0A0.35,0.35,0,1,1,0.35,0A0.35,0.35,0,1,1,-0.35,0","symbolSize":100,"symbolStrokeWidth":1,"labelOffset":12,"rowPadding":1,"padding":0,"symbolOpacity":1,
   "encode":{"symbols":{"update":{"fill":{"scale":"color","field":"value"},"stroke":{"scale":"color","field":"value"}}}}}}
},
"layer":[
 {"mark":{"type":"line","strokeWidth":1,"opacity":0.6},
  "encoding":{
   "x":{"field":"h","type":"quantitative","scale":{"domain":[-0.1,4.1],"nice":false,"zero":false},
    "axis":{"orient":"bottom","values":[0,1,2,3,4],"format":"d","title":"h","grid":false,"labelFontSize":15,"titleFontSize":15,"titleFontWeight":"normal","labelColor":"#262626","titleColor":"#262626","domainColor":"#808080","tickColor":"#808080","tickSize":-4,"labelPadding":13,"titlePadding":5,"labelFlush":false}},
   "y":{"field":"m","type":"quantitative","scale":{"domain":[-0.048,1.049],"nice":false,"zero":false},
    "axis":{"orient":"left","values":[0,0.2,0.4,0.6,0.8,1],"format":".1f","title":"m","grid":false,"labelFontSize":15,"titleFontSize":15,"titleFontWeight":"normal","labelColor":"#262626","titleColor":"#262626","domainColor":"#808080","tickColor":"#808080","tickSize":-4,"labelPadding":10,"titlePadding":2}}
  }},
 {"mark":{"type":"circle","size":12,"opacity":1},
  "encoding":{
   "x":{"field":"h","type":"quantitative","axis":{"orient":"top","values":[0,1,2,3,4],"labels":false,"title":null,"grid":false,"domainColor":"#808080","tickColor":"#808080","tickSize":-4}},
   "y":{"field":"m","type":"quantitative","axis":{"orient":"right","values":[0,0.2,0.4,0.6,0.8,1],"labels":false,"title":null,"grid":false,"domainColor":"#808080","tickColor":"#808080","tickSize":-4}}
  }}
],
"resolve":{"axis":{"x":"independent","y":"independent"}}
}
